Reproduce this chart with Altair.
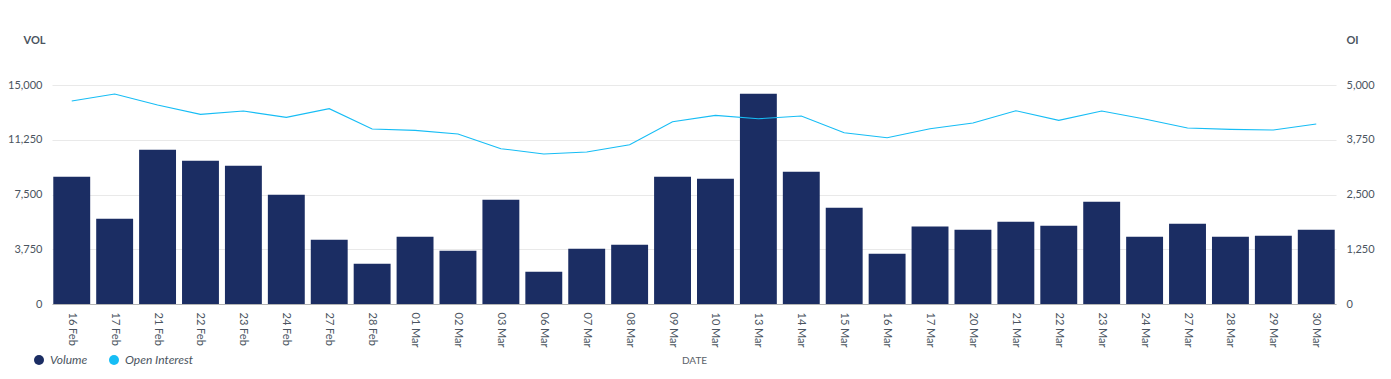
import altair as alt
import pandas as pd

dates = ["16 Feb", "17 Feb", "21 Feb", "22 Feb", "23 Feb", "24 Feb", "27 Feb", "28 Feb",
         "01 Mar", "02 Mar", "03 Mar", "06 Mar", "07 Mar", "08 Mar", "09 Mar", "10 Mar",
         "13 Mar", "14 Mar", "15 Mar", "16 Mar", "17 Mar", "20 Mar", "21 Mar", "22 Mar",
         "23 Mar", "24 Mar", "27 Mar", "28 Mar", "29 Mar", "30 Mar"]
volume = [8720, 5840, 10570, 9820, 9470, 7490, 4400, 2760,
          4610, 3650, 7140, 2210, 3790, 4060, 8720, 8580,
          14400, 9060, 6600, 3450, 5300, 5090, 5640, 5360,
          7010, 4610, 5500, 4610, 4680, 5090]
open_interest = [4635, 4795, 4543, 4329, 4406, 4260, 4459, 3995,
                 3963, 3881, 3546, 3425, 3470, 3637, 4162, 4306,
                 4231, 4292, 3911, 3795, 4002, 4132, 4413, 4192,
                 4406, 4224, 4018, 3986, 3972, 4110]
series = ["Volume", "Open Interest"]
series_colors = ["#1b2d63", "#16bdf5"]

vol_ticks = [0, 3750, 7500, 11250, 15000]
oi_ticks = [0, 1250, 2500, 3750, 5000]

df = pd.DataFrame({"date": dates, "volume": volume, "oi": open_interest})
legend_df = pd.DataFrame({"series": series})

FONT = "Lato"
TXT = "#4a5460"

x = alt.X(
    "date:N", sort=None,
    scale=alt.Scale(paddingInner=0.14, paddingOuter=0.03),
    axis=alt.Axis(title="DATE", labelAngle=90, labelAlign="left", labelBaseline="middle",
                  labelPadding=8, ticks=False, domainColor="#b5b5b5", domainWidth=1,
                  labelFontSize=11, labelColor=TXT, titleFontSize=10, titleColor="#5a6168",
                  titleFontWeight="normal", titleY=56, titleBaseline="middle", grid=False),
)

bars = alt.Chart(df).mark_bar(color=series_colors[0]).encode(
    x=x,
    y=alt.Y("volume:Q",
            scale=alt.Scale(domain=[0, 15000], nice=False),
            axis=alt.Axis(title="VOL", values=vol_ticks, format=",.0f", orient="left",
                          domain=False, ticks=False, labelPadding=10, grid=True,
                          gridColor="#e9e9e9", labelFontSize=11, labelColor=TXT,
                          titleAngle=0, titleX=-18, titleY=-45, titleAlign="center",
                          titleBaseline="middle", titleFontSize=11, titleColor=TXT,
                          titleFontWeight="bold")),
)

line = alt.Chart(df).mark_line(color=series_colors[1], strokeWidth=1.1).encode(
    x=x,
    y=alt.Y("oi:Q",
            scale=alt.Scale(domain=[0, 5000], nice=False),
            axis=alt.Axis(title="OI", values=oi_ticks, format=",.0f", orient="right",
                          domain=False, ticks=False, labelPadding=10, grid=False,
                          labelFontSize=11, labelColor=TXT,
                          titleAngle=0, titleX=16, titleY=-45, titleAlign="center",
                          titleBaseline="middle", titleFontSize=11, titleColor=TXT,
                          titleFontWeight="bold")),
)

legend_layer = alt.Chart(legend_df).mark_point(filled=True, opacity=0).encode(
    color=alt.Color("series:N", sort=series,
                    scale=alt.Scale(domain=series, range=series_colors),
                    legend=alt.Legend(title=None, orient="none", direction="horizontal",
                                      legendX=-19, legendY=269, symbolType="circle",
                                      symbolSize=100, symbolOpacity=1, labelFontSize=12,
                                      labelFontStyle="italic", labelColor=TXT,
                                      labelOffset=5, columnPadding=20, padding=0)),
)

chart = alt.layer(bars, line, legend_layer).resolve_scale(y="independent").properties(
    width=1284, height=219,
    autosize=alt.AutoSizeParams(type="none"),
    padding={"left": 44, "top": 77, "right": 40, "bottom": 70},
).configure(font=FONT).configure_view(stroke=None)

chart.save("out.html", embed_options={"renderer": "svg", "actions": False})
